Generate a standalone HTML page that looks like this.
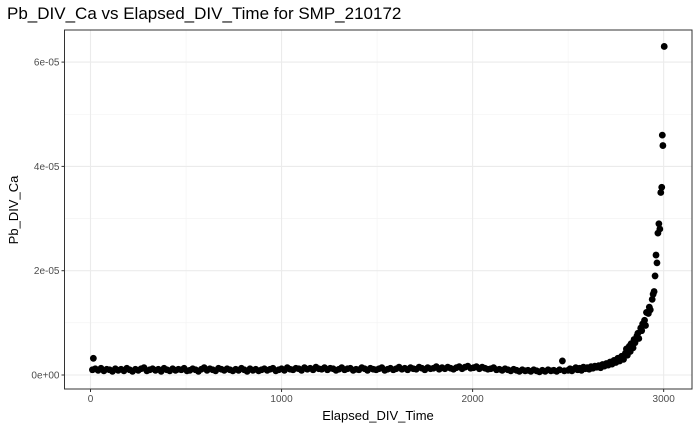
<!DOCTYPE html>
<html><head><meta charset="utf-8"><style>
body{margin:0;background:#fff;font-family:"Liberation Sans",sans-serif}
</style></head><body>
<svg id="c" width="700" height="432" xmlns="http://www.w3.org/2000/svg">
<text x="7" y="19" font-size="17" fill="#000">Pb_DIV_Ca vs Elapsed_DIV_Time for SMP_210172</text>
<g id="grid"></g><g id="pts"></g><g id="axes"></g>
<text x="378" y="420" font-size="13" text-anchor="middle">Elapsed_DIV_Time</text>
<text transform="translate(18,210) rotate(-90)" font-size="13" text-anchor="middle">Pb_DIV_Ca</text>
</svg>
<script>
const xTicks=[0,1000,2000,3000];
const xTickLabels=["0","1000","2000","3000"];
const yTicks=[0,2e-5,4e-5,6e-5];
const yTickLabels=["0e+00","2e-05","4e-05","6e-05"];
const baseT=[10,15,25,40,55,70,85,100,115,130,145,160,175,190,205,220,235,250,265,280,295,310,325,340,355,370,385,400,415,430,445,460,475,490,505,520,535,550,565,580,595,610,625,640,655,670,685,700,715,730,745,760,775,790,805,820,835,850,865,880,895,910,925,940,955,970,985,1000,1015,1030,1045,1060,1075,1090,1105,1120,1135,1150,1165,1180,1195,1210,1225,1240,1255,1270,1285,1300,1315,1330,1345,1360,1375,1390,1405,1420,1435,1450,1465,1480,1495,1510,1525,1540,1555,1570,1585,1600,1615,1630,1645,1660,1675,1690,1705,1720,1735,1750,1765,1780,1795,1810,1825,1840,1855,1870,1885,1900,1915,1930,1945,1960,1975,1990,2005,2020,2035,2050,2065,2080,2095,2110,2125,2140,2155,2170,2185,2200,2215,2230,2245,2260,2275,2290,2305,2320,2335,2350,2365,2380,2395,2410,2425,2440,2455,2470,2480,2490];
const baseV=[10,32,12,9,13,8,11,10,7,12,9,11,8,13,10,7,11,9,12,14,8,10,12,9,11,7,13,10,8,12,9,11,10,13,8,9,12,10,7,11,14,9,12,10,8,13,11,9,12,10,8,11,9,13,10,7,12,9,11,8,10,12,9,11,13,8,10,12,9,14,11,10,13,12,9,14,11,13,10,15,12,11,14,10,13,12,9,11,14,10,12,13,9,11,10,14,12,9,13,11,10,12,14,9,11,13,10,12,15,11,13,10,14,12,11,15,13,10,14,12,13,16,11,14,12,15,13,11,14,16,12,15,17,13,14,16,12,15,13,11,12,14,10,11,9,12,10,8,11,9,7,10,8,9,7,10,8,6,9,7,10,8,9,7,10,27,8];
const tailT=[2500,2510,2520,2530,2540,2550,2560,2570,2580,2590,2600,2610,2620,2630,2640,2650,2660,2670,2680,2690,2700,2710,2720,2730,2740,2750,2760,2770,2780,2790,2800,2805,2810,2820,2825,2830,2840,2845,2850,2860,2865,2870,2880,2885,2890,2900,2905,2910,2920,2925,2930,2940,2945,2950,2955,2960,2965,2970,2975,2980,2985,2990,2993,2996,3003];
const tailV=[9,12,8,11,14,10,13,9,15,12,14,11,16,13,17,15,18,14,20,17,22,19,25,21,28,24,32,27,36,30,42,50,38,55,45,60,52,68,62,75,80,70,90,85,98,105,95,120,118,130,125,145,155,160,190,230,215,272,290,280,350,360,460,440,630];
const X0=64.5,X1=692,Y0=30,Y1=389;
const xs=t=>90.5+t*0.19105;
const ys=v=>375-v*5.215e6;
const ns="http://www.w3.org/2000/svg";
function mk(tag,attrs,parent){const e=document.createElementNS(ns,tag);for(const k in attrs)e.setAttribute(k,attrs[k]);parent.appendChild(e);return e;}
const grid=document.getElementById('grid'),pts=document.getElementById('pts'),axes=document.getElementById('axes');
mk('rect',{x:X0,y:Y0,width:X1-X0,height:Y1-Y0,fill:'#fff'},grid);
for(let i=0;i<xTicks.length-1;i++){const m=xs((xTicks[i]+xTicks[i+1])/2);const l=mk('line',{x1:m,x2:m,y1:Y0,y2:Y1,stroke:'#f2f2f2','stroke-width':0.6},grid);}
for(let i=0;i<yTicks.length-1;i++){const m=ys((yTicks[i]+yTicks[i+1])/2);const l=mk('line',{x1:X0,x2:X1,y1:m,y2:m,stroke:'#f2f2f2','stroke-width':0.6},grid);}
xTicks.forEach((t,i)=>{const x=xs(t);const l=mk('line',{x1:x,x2:x,y1:Y0,y2:Y1,stroke:'#ebebeb','stroke-width':1.1},grid);
mk('line',{x1:x,x2:x,y1:Y1,y2:Y1+3,stroke:'#333'},axes);
const tx=mk('text',{x:x,y:Y1+13,'font-size':10,fill:'#4d4d4d','text-anchor':'middle'},axes);tx.textContent=xTickLabels[i];});
yTicks.forEach((v,i)=>{const y=ys(v);const l=mk('line',{x1:X0,x2:X1,y1:y,y2:y,stroke:'#ebebeb','stroke-width':1.1},grid);
mk('line',{x1:X0-3,x2:X0,y1:y,y2:y,stroke:'#333'},axes);
const tx=mk('text',{x:X0-5,y:y+3.5,'font-size':10,fill:'#4d4d4d','text-anchor':'end'},axes);tx.textContent=yTickLabels[i];});
function drawSeries(T,V){const n=Math.min(T.length,V.length);for(let i=0;i<n;i++){const c=mk('circle',{cx:xs(T[i]),cy:ys(V[i]*1e-7),r:3.4,fill:'#000'},pts);

}}
drawSeries(baseT,baseV);
drawSeries(tailT,tailV);
const b=mk('rect',{x:X0,y:Y0,width:X1-X0,height:Y1-Y0,fill:'none',stroke:'#333','stroke-width':1},axes);


</script>
</body></html>
